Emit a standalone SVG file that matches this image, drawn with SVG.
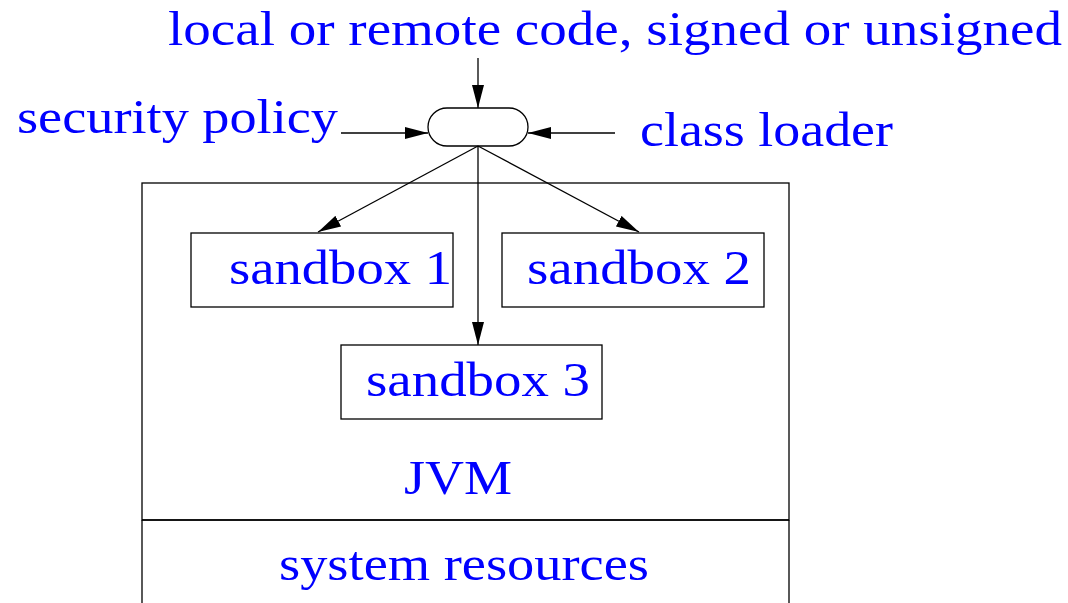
<svg xmlns="http://www.w3.org/2000/svg" width="1068" height="603" viewBox="0 0 1068 603">
  <style>
    .lbl { font-family: "Liberation Serif", "DejaVu Serif", serif; font-size: 48px; fill: #0000ff; }
    .box { fill: none; stroke: #000; stroke-width: 1.3; }
    .edge { fill: none; stroke: #000; stroke-width: 1.3; marker-end: url(#head); }
  </style>
  <defs>
    <marker id="head" markerUnits="userSpaceOnUse" markerWidth="24" markerHeight="12" refX="23" refY="6" orient="auto">
      <path d="M0,0 L23,6 L0,12 z" fill="#000"/>
    </marker>
  </defs>

  <rect width="1068" height="603" fill="#fff"/>

  <!-- outer JVM layer and system resources layer -->
  <g id="jvm">
    <rect class="box" x="142" y="183" width="647" height="337"/>
    <text class="lbl" x="404" y="494" textLength="108" lengthAdjust="spacingAndGlyphs">JVM</text>
  </g>
  <g id="system-resources">
    <path class="box" d="M142,520 V604 M789,520 V604 M142,520 H789"/>
    <text class="lbl" x="279" y="580" textLength="370" lengthAdjust="spacingAndGlyphs">system resources</text>
  </g>

  <!-- input labels -->
  <g id="code-source">
    <text class="lbl" x="168" y="45" textLength="894" lengthAdjust="spacingAndGlyphs">local or remote code, signed or unsigned</text>
  </g>
  <g id="security-policy">
    <text class="lbl" x="17" y="133" textLength="321" lengthAdjust="spacingAndGlyphs">security policy</text>
  </g>
  <g id="class-loader">
    <text class="lbl" x="640" y="146" textLength="253" lengthAdjust="spacingAndGlyphs">class loader</text>
  </g>

  <!-- dispatch hub -->
  <g id="hub">
    <rect class="box" x="428" y="108" width="100" height="38" rx="19" ry="19"/>
  </g>

  <!-- sandboxes -->
  <g id="sandbox1">
    <rect class="box" x="191" y="233" width="262" height="74"/>
    <text class="lbl" x="229" y="284" textLength="223" lengthAdjust="spacingAndGlyphs">sandbox 1</text>
  </g>
  <g id="sandbox2">
    <rect class="box" x="502" y="233" width="262" height="74"/>
    <text class="lbl" x="527" y="284" textLength="224" lengthAdjust="spacingAndGlyphs">sandbox 2</text>
  </g>
  <g id="sandbox3">
    <rect class="box" x="341" y="345" width="261" height="74"/>
    <text class="lbl" x="366" y="396" textLength="224" lengthAdjust="spacingAndGlyphs">sandbox 3</text>
  </g>

  <!-- connectors -->
  <g id="connectors">
    <line class="edge" x1="478" y1="58" x2="478" y2="108"/>
    <line class="edge" x1="341" y1="133" x2="428" y2="133"/>
    <line class="edge" x1="615" y1="133" x2="528" y2="133"/>
    <line class="edge" x1="478" y1="146" x2="318" y2="232"/>
    <line class="edge" x1="478" y1="146" x2="639" y2="232"/>
    <line class="edge" x1="478" y1="146" x2="478" y2="345"/>
  </g>
</svg>
